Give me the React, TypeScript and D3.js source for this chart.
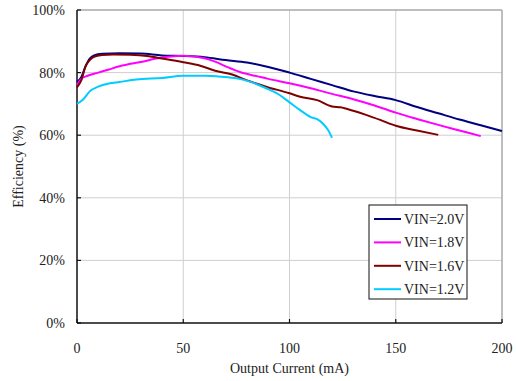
import React from "react";
import * as d3 from "d3";

const xTicks = [0, 50, 100, 150, 200];
const yTicks = [0, 20, 40, 60, 80, 100];

const vin20X = [0, 2, 4, 6, 8, 12, 20, 30, 40, 50, 60, 70, 80, 90, 100, 110, 120, 130, 140, 150, 160, 170, 180, 190, 200];
const vin20Y = [77, 78.5, 82, 84.5, 85.5, 86, 86.2, 86.1, 85.5, 85.3, 84.9, 84, 83.2, 81.8, 80, 78, 76, 74, 72.5, 71.2, 69, 67, 65, 63.2, 61.3];

const vin18X = [0, 2, 5, 10, 15, 20, 30, 40, 50, 60, 65, 70, 77, 85, 90, 100, 110, 120, 130, 140, 150, 160, 170, 180, 190];
const vin18Y = [76, 78, 79, 80, 81, 82, 83.4, 84.8, 85.4, 84.6, 83.5, 82, 80.1, 78.8, 78, 76.6, 75, 73.2, 71.5, 69.5, 67.2, 65.2, 63.3, 61.5, 59.7];

const vin16X = [0, 2, 4, 6, 8, 12, 17, 25, 33, 40, 50, 58, 65, 73, 80, 89, 100, 105, 113, 120, 124, 130, 136, 143, 150, 160, 170];
const vin16Y = [75.3, 77.5, 82, 84, 85, 85.6, 85.8, 85.7, 85.3, 84.5, 83.3, 82.2, 80.6, 79.4, 77.5, 75.5, 73.4, 72.3, 71.2, 69.2, 68.9, 67.8, 66.5, 64.8, 63, 61.5, 60.1];

const vin12X = [0, 3, 6, 10, 15, 20, 28, 40, 50, 60, 68, 75, 81, 89, 95, 100, 105, 110, 113, 116, 118, 120];
const vin12Y = [70, 71.5, 74, 75.5, 76.5, 77, 77.8, 78.3, 79, 79, 78.7, 78.2, 77.2, 75, 73, 70.5, 68, 65.8, 65.1, 63.5, 61.8, 59.2];

const seriesNames = ["VIN=2.0V", "VIN=1.8V", "VIN=1.6V", "VIN=1.2V"];
const seriesColors = ["#000080", "#ff00ff", "#800000", "#00ccff"];
const seriesX = [vin20X, vin18X, vin16X, vin12X];
const seriesY = [vin20Y, vin18Y, vin16Y, vin12Y];

const W = 516;
const H = 381;
const L = 77, R = 502, T = 10, B = 323;
const FONT = "'Liberation Serif', 'DejaVu Serif', serif";
const TXT = "#222";

export default function App() {
  const x = d3.scaleLinear().domain([0, 200]).range([L, R]);
  const y = d3.scaleLinear().domain([0, 100]).range([B, T]);
  const line = d3
    .line<[number, number]>()
    .x((d) => x(d[0]))
    .y((d) => y(d[1]))
    .curve(d3.curveMonotoneX);

  const legendX = 369, legendY = 205, legendW = 98, legendH = 94;

  return (
    <svg
      width={W}
      height={H}
      style={{ position: "absolute", left: 0, top: 0, background: "#fff" }}
      fontFamily={FONT}
    >
      <rect x={0} y={0} width={W} height={H} fill="#fff" />
      {/* grid */}
      {yTicks.filter((t) => t > 0 && t < 100).map((t) => (
        <line key={"gy" + t} x1={L} x2={R} y1={y(t)} y2={y(t)} stroke="#cfcfcf" strokeWidth={1} />
      ))}
      {xTicks.filter((t) => t > 0 && t < 200).map((t) => (
        <line key={"gx" + t} x1={x(t)} x2={x(t)} y1={T} y2={B} stroke="#cfcfcf" strokeWidth={1} />
      ))}
      {/* top/right border */}
      <line x1={L} x2={R} y1={T} y2={T} stroke="#a8a8a8" strokeWidth={1.5} />
      <line x1={R} x2={R} y1={T} y2={B} stroke="#a8a8a8" strokeWidth={1.5} />
      {/* axes */}
      <line x1={L} x2={L} y1={T} y2={B} stroke="#111" strokeWidth={1.5} />
      <line x1={L} x2={R} y1={B} y2={B} stroke="#111" strokeWidth={1.5} />
      {yTicks.map((t) => (
        <line key={"ty" + t} x1={L} x2={L + 4} y1={y(t)} y2={y(t)} stroke="#111" strokeWidth={1.2} />
      ))}
      {xTicks.map((t) => (
        <line key={"tx" + t} x1={x(t)} x2={x(t)} y1={B} y2={B - 4} stroke="#111" strokeWidth={1.2} />
      ))}
      {/* tick labels */}
      {yTicks.map((t) => (
        <text key={"ly" + t} x={65} y={y(t)} dy="0.35em" textAnchor="end" fontSize={14} fill={TXT}>
          {t + "%"}
        </text>
      ))}
      {xTicks.map((t) => (
        <text key={"lx" + t} x={x(t)} y={353} textAnchor="middle" fontSize={14} fill={TXT}>
          {t}
        </text>
      ))}
      <text x={(L + R) / 2} y={373} textAnchor="middle" fontSize={14} fill={TXT}>
        Output Current (mA)
      </text>
      <text
        transform={`translate(23, ${(T + B) / 2}) rotate(-90)`}
        textAnchor="middle"
        fontSize={14}
        fill={TXT}
      >
        Efficiency (%)
      </text>
      {/* series */}
      {seriesX.map((xs, i) => (
        <path
          key={"s" + i}
          d={line(xs.map((v, j) => [v, seriesY[i][j]] as [number, number])) || ""}
          fill="none"
          stroke={seriesColors[i]}
          strokeWidth={2}
          strokeLinejoin="round"
        />
      ))}
      {/* legend */}
      <rect x={legendX} y={legendY} width={legendW} height={legendH} fill="#fff" stroke="#111" strokeWidth={1} />
      {seriesNames.map((n, i) => {
        const ly = 219 + i * 23.4;
        return (
          <g key={"lg" + i}>
            <line x1={374} x2={401} y1={ly} y2={ly} stroke={seriesColors[i]} strokeWidth={2} />
            <text x={404} y={ly} dy="0.35em" fontSize={14} fill={TXT}>
              {n}
            </text>
          </g>
        );
      })}
    </svg>
  );
}
